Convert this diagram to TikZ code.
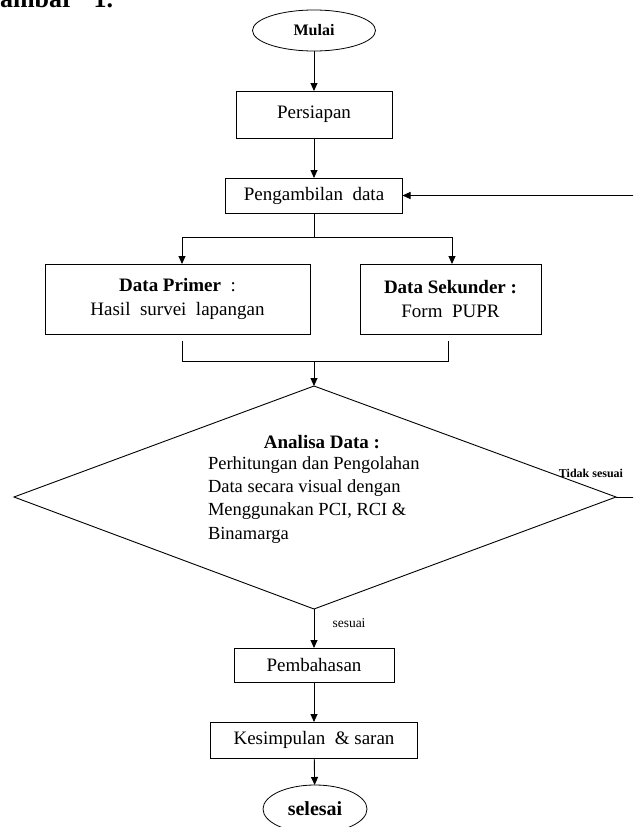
\documentclass[tikz,border=0pt]{standalone}
\usepackage{fontspec}
\setmainfont{Liberation Serif}
\usetikzlibrary{arrows.meta,calc,shapes.geometric}
\begin{document}
\begin{tikzpicture}[x=1pt,y=-1pt,
  every node/.style={inner sep=0pt, outer sep=0pt},
  box/.style={draw, line width=0.9pt, font=\fontsize{19}{24}\selectfont, align=center},
  term/.style={draw, ellipse, line width=0.8pt},
  conn/.style={line width=0.9pt},
  arr/.style={conn, -{Triangle[length=8pt,width=7pt]}},
  lbl/.style={font=\fontsize{#1}{#1}\selectfont},
]
\useasboundingbox (0,0) rectangle (633,827);
\clip (0,0) rectangle (633,827);

% header (cut off at the top)
\node[anchor=base west, font=\bfseries\fontsize{26}{30}\selectfont] (hdr) at (-20.2,7) {Gambar\hspace{20pt}1.};

% terminals and boxes
\node[term, minimum width=123pt, minimum height=41pt, font=\bfseries\fontsize{16}{18}\selectfont] (mulai) at (314,30.5) {Mulai};
\node[box, minimum width=156pt, minimum height=47pt] (pers) at (314,114.5) {Persiapan};
\node[box, minimum width=177pt, minimum height=35pt] (peng) at (314,195.5) {Pengambilan\ \ data};
\node[box, minimum width=265pt, minimum height=70pt] (prim) at (177.5,299) {\textbf{Data Primer}\ \ :\\Hasil\ \ survei\ \ lapangan};
\node[box, minimum width=181pt, minimum height=70pt] (sek) at (450.5,299) {\textbf{Data Sekunder :}\\Form\ \ PUPR};

% decision diamond
\coordinate (dtop) at (314,386);
\coordinate (dright) at (616,497);
\coordinate (dbot) at (314,609);
\coordinate (dleft) at (14,497);
\draw[line width=0.9pt] (dtop) -- (dright) -- (dbot) -- (dleft) -- cycle;
\node[font=\bfseries\fontsize{19}{23}\selectfont] (adtitle) at (322,442) {Analisa Data :};
\node[anchor=north west, align=left, font=\fontsize{18.5}{23.3}\selectfont] (adtext) at (208,456.5) {Perhitungan dan Pengolahan\\Data secara visual dengan\\Menggunakan PCI, RCI \&\\Binamarga};

\node[box, minimum width=160pt, minimum height=34pt] (pemb) at (314,665) {Pembahasan};
\node[box, minimum width=207pt, minimum height=36pt] (kes) at (314,740) {Kesimpulan\ \ \& saran};
\node[term, minimum width=104pt, minimum height=48pt, font=\bfseries\fontsize{20}{22}\selectfont] (sel) at (315,809) {selesai};

% labels
\node[font=\bfseries\fontsize{12}{14}\selectfont] (tidak) at (591,473) {Tidak sesuai};
\node[lbl=13.5] (sesuai) at (349,623) {sesuai};

% helper coordinates
\coordinate (split) at (314,237);
\coordinate (sl) at (182,237);
\coordinate (sr) at (452,237);
\coordinate (ml1) at (182,341);
\coordinate (ml2) at (182,361);
\coordinate (mr1) at (448,341);
\coordinate (mr2) at (448,361);
\coordinate (mm) at (314,361);
\coordinate (fb1) at (645,497);
\coordinate (fb2) at (645,195.5);

% connectors
\draw[arr] (mulai) -- (pers);
\draw[arr] (pers) -- (peng);
\draw[conn] (peng.south) -- (split);
\draw[conn] (sl) -- (sr);
\draw[arr] (sl) -- (sl |- prim.north);
\draw[arr] (sr) -- (sr |- sek.north);
\draw[conn] (ml1) -- (ml2) -- (mr2) -- (mr1);
\draw[arr] (mm) -- (dtop);
\draw[arr] (dbot) -- (pemb);
\draw[arr] (pemb) -- (kes);
\draw[arr] (kes) -- (sel);
\draw[arr] (dright) -- (fb1) -- (fb2) -- (peng.east);
\end{tikzpicture}
\end{document}
